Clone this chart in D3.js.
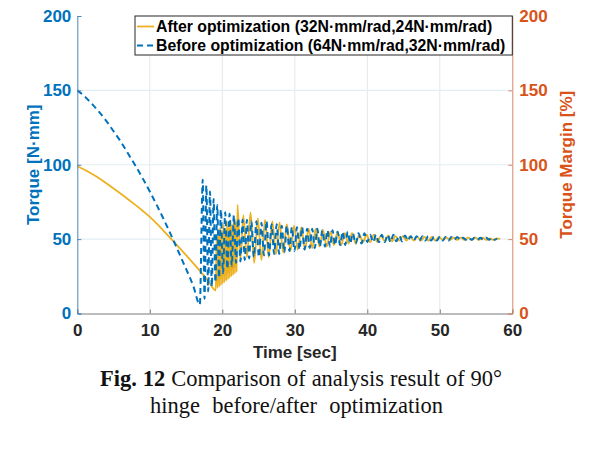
<!DOCTYPE html>
<html><head><meta charset="utf-8">
<script src="https://cdn.jsdelivr.net/npm/d3@7"></script>
<style>html,body{margin:0;padding:0;background:#fff;}svg{display:block;}</style>
</head><body>
<svg id="chart" width="599" height="450"></svg>
<script>
// ---- data ----
const xTicks = [0, 10, 20, 30, 40, 50, 60];
const yTicks = [0, 50, 100, 150, 200];
const legendLabels = [
  "After optimization (32N\u00B7mm/rad,24N\u00B7mm/rad)",
  "Before optimization (64N\u00B7mm/rad,32N\u00B7mm/rad)"
];
// After optimization (solid, yellow-orange): [time, torque]
const afterSeries = [
  [0,99],[1,96.6],[2,93.9],[3,91],[4,87.6],[5,84.1],[6,80.5],[7,76.8],[8,73],[9,69.1],[10,65],[11,60.2],[12,55.1],[13,49.9],[14,44.6],[15,39.2],[16,33.7],[17,28.1],[18,22.2],[19.1,15.5],
  [19.22,52],[19.34,17],[19.46,55],[19.58,18],[19.7,58],[19.82,19],[19.94,56],[20.06,20],[20.18,60],[20.3,21],[20.42,57],[20.54,22],[20.66,62],[20.78,23],[20.9,58],[21.02,24],[21.14,63],[21.26,25],[21.38,60],[21.5,26],[21.62,65],[21.74,27],[21.86,62],[21.98,28],
  [22.1,73],[22.5,36],[22.9,66],[23.4,38],[23.9,68],[24.4,34],[24.9,64],[25.4,36],[25.9,63],[26.4,38],[26.9,62],[27.4,40],[27.9,61],[28.4,41],[28.9,60],[29.4,42],[29.9,59],[30.4,43],[30.9,58],[31.4,43],[31.9,57],[32.4,44],[32.9,57],[33.4,45],[33.9,56],[34.4,45],[34.9,55],[35.4,46],[35.9,55],[36.4,46],[36.9,54],[37.4,47],[37.9,54],[38.4,47],[38.9,53],[39.4,48],[39.9,53],[40.4,48],[40.9,53],[41.4,48],[41.9,52.5],[42.4,48.5],[42.9,52.5],[43.4,48.5],[43.9,52],[44.4,49],[44.9,52],[45.4,49],[45.9,52],[46.4,49],[46.9,51.5],[47.4,49],[47.9,51.5],[48.4,49],[48.9,51.5],[49.4,49],[49.9,51.5],[50.4,49.5],[50.9,51],[51.4,49.5],[51.9,51],[52.4,49.5],[52.9,51],[53.4,49.5],[53.9,51],[54.4,49.5],[54.9,51],[55.4,49.5],[55.9,51],[56.4,49.5],[56.9,50.5],[57.4,49.5],[57.9,50.5],[58.3,50]
];
// Before optimization (dashed, blue): [time, torque]
const beforeSeries = [
  [0,150],[1,146],[2,141],[3,135.5],[4,129.5],[5,122.5],[6,115.5],[7,107.5],[8,99.5],[9,91],[10,82],[11,72.5],[12,62.5],[13,52],[14,41],[15,30],[16,18.5],[16.9,6],
  [17.3,90],[17.55,10],[17.8,86],[18.05,15],[18.3,82],[18.55,18],[18.8,77],[19.05,21],[19.3,73],[19.55,24],[19.8,70],[20.1,27],[20.4,68],[20.7,30],[21.0,67],[21.3,32],[21.6,66],[21.9,34],[22.2,64],[22.5,35],[22.8,63],[23.1,36],[23.4,63],[23.7,37],[24.0,62],[24.35,38],[24.7,62],[25.05,38],[25.4,61],[25.75,39],[26.1,62],[26.45,39],[26.8,60],[27.15,40],[27.5,60],[27.85,40],[28.2,59],[28.55,41],[28.9,59],[29.25,42],[29.6,58],[29.95,42],[30.3,58],[30.65,43],[31.0,58],[31.35,43],[31.7,57],[32.05,44],[32.4,57],[32.75,44],[33.1,57],[33.45,45],[33.8,56],[34.15,45],[34.5,56],[34.85,45],[35.2,56],[35.55,46],[35.9,55],[36.25,46],[36.6,55],[36.95,46],[37.3,55],[37.65,47],[38.0,54],[38.4,47],[38.8,54],[39.2,47],[39.6,54],[40.0,48],[40.4,53],[40.8,48],[41.2,53],[41.6,48],[42.0,53],[42.4,48],[42.8,53],[43.2,48],[43.6,53],[44.0,48.5],[44.4,52.5],[44.8,48.5],[45.2,52.5],[45.6,49],[46.0,52],[46.4,49],[46.8,52],[47.2,49],[47.6,52],[48.0,49],[48.4,52],[48.8,49],[49.2,51.5],[49.6,49],[50.0,51.5],[50.4,49],[50.8,51.5],[51.2,49],[51.6,51.5],[52.0,49.5],[52.4,51.5],[52.8,49.5],[53.2,51],[53.6,49.5],[54.0,51],[54.4,49.5],[54.8,51],[55.2,49.5],[55.6,51],[56.0,49.5],[56.4,51],[56.8,49.5],[57.2,51],[57.6,49.5],[57.9,50.5]
];
const captionLine1 = [["Fig.", true], ["12", true], ["Comparison", false], ["of", false], ["analysis", false], ["result", false], ["of", false], ["90\u00B0", false]];
const captionLine2 = [["hinge", false], ["before/after", false], ["optimization", false]];

// ---- styling ----
const C_BLUE = "#0072BD", C_YEL = "#EDB120", C_RED = "#D95319";
const FONT = "'Liberation Sans', Arial, sans-serif";
const SERIF = "'Liberation Serif', 'Times New Roman', serif";
const L = 77.3, R = 512.3, T = 16, B = 313.5;

const svg = d3.select("#chart");
const x = d3.scaleLinear().domain([0, 60]).range([L, R]);
const y = d3.scaleLinear().domain([0, 200]).range([B, T]);

// grid
const grid = svg.append("g");
grid.selectAll("line.gx").data(xTicks.slice(1, -1)).join("line")
  .attr("x1", d => x(d)).attr("x2", d => x(d)).attr("y1", T).attr("y2", B)
  .attr("stroke", "#e3e8ec").attr("stroke-width", 1);
grid.selectAll("line.gy").data(yTicks.slice(1, -1)).join("line")
  .attr("x1", L).attr("x2", R).attr("y1", d => y(d)).attr("y2", d => y(d))
  .attr("stroke", "#e3eef3").attr("stroke-width", 1.2);

// lines
const line = d3.line().x(d => x(d[0])).y(d => y(d[1])).curve(d3.curveMonotoneX);
svg.append("path").datum(afterSeries).attr("d", line)
  .attr("fill", "none").attr("stroke", C_YEL).attr("stroke-width", 1.8).attr("stroke-linejoin", "round");
svg.append("path").datum(beforeSeries).attr("d", line)
  .attr("fill", "none").attr("stroke", C_BLUE).attr("stroke-width", 2).attr("stroke-dasharray", "6,4");

// axes
const xAxis = d3.axisBottom(x).tickValues(xTicks).tickSize(-4).tickPadding(10);
const gx = svg.append("g").attr("transform", `translate(0,${B})`).call(xAxis);
gx.select(".domain").attr("stroke", "#7a7a7a");
gx.selectAll(".tick line").attr("stroke", "#7a7a7a");
gx.selectAll("text").attr("fill", "#262626").style("font", `bold 17px ${FONT}`).attr("dy", "0.71em");

const yAxisL = d3.axisLeft(y).tickValues(yTicks).tickSize(-4).tickPadding(6);
const gyl = svg.append("g").attr("transform", `translate(${L},0)`).call(yAxisL);
gyl.select(".domain").attr("stroke", "#4f86b3");
gyl.selectAll(".tick line").attr("stroke", "#4f86b3");
gyl.selectAll("text").attr("fill", C_BLUE).style("font", `bold 17px ${FONT}`);

const yAxisR = d3.axisRight(y).tickValues(yTicks).tickSize(-4).tickPadding(7);
const gyr = svg.append("g").attr("transform", `translate(${R},0)`).call(yAxisR);
gyr.select(".domain").attr("stroke", "#d7876a");
gyr.selectAll(".tick line").attr("stroke", "#d7876a");
gyr.selectAll("text").attr("fill", C_RED).style("font", `bold 17px ${FONT}`);

// axis titles
svg.append("text").attr("x", (L + R) / 2).attr("y", 358).attr("text-anchor", "middle")
  .attr("fill", "#262626").style("font", `bold 17px ${FONT}`).text("Time [sec]");
svg.append("text").attr("transform", `translate(39,${(T + B) / 2}) rotate(-90)`).attr("text-anchor", "middle")
  .attr("fill", C_BLUE).style("font", `bold 17px ${FONT}`).text("Torque [N\u00B7mm]");
svg.append("text").attr("transform", `translate(572,${(T + B) / 2}) rotate(-90)`).attr("text-anchor", "middle")
  .attr("fill", C_RED).style("font", `bold 17px ${FONT}`).text("Torque Margin [%]");

// legend
const lg = svg.append("g");
lg.append("rect").attr("x", 135).attr("y", T).attr("width", R - 135).attr("height", 39)
  .attr("fill", "#fff").attr("stroke", "#262626").attr("stroke-width", 1);
const rows = [{c: C_YEL, dash: null, w: 1.8}, {c: C_BLUE, dash: "6,4", w: 2}];
rows.forEach((r, i) => {
  const cy = 26.5 + i * 19;
  lg.append("line").attr("x1", 137).attr("x2", 154).attr("y1", cy).attr("y2", cy)
    .attr("stroke", r.c).attr("stroke-width", r.w).attr("stroke-dasharray", r.dash);
  lg.append("text").attr("x", 156).attr("y", cy).attr("dy", "0.36em")
    .attr("fill", "#000").style("font", `bold 15.8px ${FONT}`).text(legendLabels[i]);
});

// caption (justified)
function justify(words, x0, x1, yb) {
  const g = svg.append("g");
  const nodes = words.map(([w, b]) => g.append("text").attr("y", yb)
    .attr("fill", "#111").style("font", `${b ? "bold " : ""}22.5px ${SERIF}`).text(w));
  const widths = nodes.map(n => n.node().getComputedTextLength());
  const total = d3.sum(widths);
  const gap = (x1 - x0 - total) / (words.length - 1);
  let cx = x0;
  nodes.forEach((n, i) => { n.attr("x", cx); cx += widths[i] + gap; });
}
justify(captionLine1, 100, 502, 386);
justify(captionLine2, 150, 443, 413);
</script>
</body></html>
